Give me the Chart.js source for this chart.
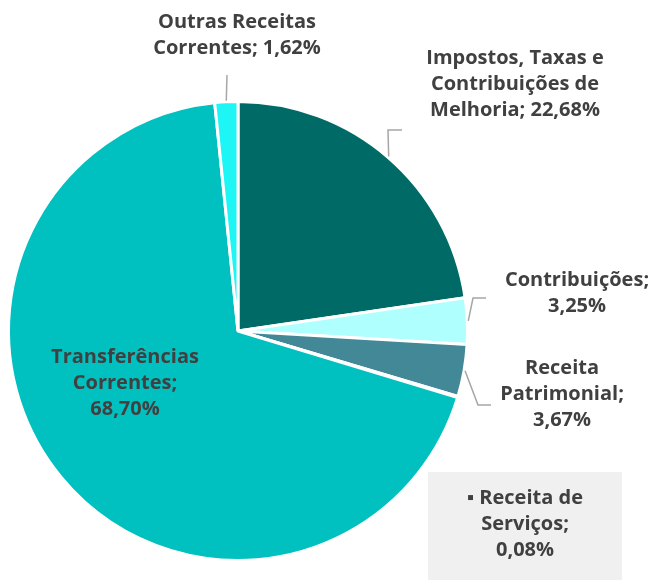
<!DOCTYPE html>
<html>
<head>
<meta charset="utf-8">
<script src="https://cdn.jsdelivr.net/npm/chart.js@4.4.1/dist/chart.umd.min.js"></script>
<style>
  body { margin: 0; background: #fff; }
  #wrap { position: relative; width: 653px; height: 580px; }
</style>
</head>
<body>
<div id="wrap"><canvas id="chart" width="653" height="580"></canvas></div>
<script>
const categories = [
  'Impostos, Taxas e Contribuições de Melhoria',
  'Contribuições',
  'Receita Patrimonial',
  'Receita de Serviços',
  'Transferências Correntes',
  'Outras Receitas Correntes'
]
const shares = [22.68, 3.25, 3.67, 0.08, 68.70, 1.62]
const colors = ['#006B66', '#B0FFFF', '#428896', '#2A9FA8', '#00C0C0', '#1EF5F5']

// label text lines, where each text block sits, and how the leader line bends
const labelLines = [
  ['Impostos, Taxas e', 'Contribuições de', 'Melhoria; 22,68%'],
  ['Contribuições;', '3,25%'],
  ['Receita', 'Patrimonial;', '3,67%'],
  ['▪ Receita de', 'Serviços;', '0,08%'],
  ['Transferências', 'Correntes;', '68,70%'],
  ['Outras Receitas', 'Correntes; 1,62%']
]
const labelPos = [
  [515, 58], [577, 280], [562, 368], [525, 498], [125, 357], [237, 22]
]
// leader points after the arc edge (null = no leader)
const leaders = [
  [[388, 130], [402, 130]],
  [[473, 298], [486, 298]],
  [[478, 405], [491, 405]],
  null,
  null,
  [[227, 75]]
]

const labelPlugin = {
  id: 'pieLabels',
  afterDraw(chart) {
    const ctx = chart.ctx
    const arcs = chart.getDatasetMeta(0).data
    ctx.save()
    // grey box behind the tiny slice label
    ctx.fillStyle = '#F0F0F0'
    ctx.fillRect(428, 472, 194, 108)

    ctx.strokeStyle = '#A6A6A6'
    ctx.lineWidth = 1.5
    arcs.forEach((arc, i) => {
      if (!leaders[i]) return
      const p = arc.getProps(['x', 'y', 'startAngle', 'endAngle', 'outerRadius'], true)
      const mid = (p.startAngle + p.endAngle) / 2
      ctx.beginPath()
      ctx.moveTo(p.x + Math.cos(mid) * (p.outerRadius + 1), p.y + Math.sin(mid) * (p.outerRadius + 1))
      leaders[i].forEach(pt => ctx.lineTo(pt[0], pt[1]))
      ctx.stroke()
    })

    ctx.fillStyle = '#404040'
    ctx.font = 'bold 20px "Open Sans"'
    ctx.textAlign = 'center'
    ctx.textBaseline = 'middle'
    labelLines.forEach((lines, i) => {
      lines.forEach((t, j) => {
        ctx.fillText(t, labelPos[i][0], labelPos[i][1] + j * 26)
      })
    })
    ctx.restore()
  }
}

new Chart(document.getElementById('chart'), {
  type: 'pie',
  data: {
    labels: categories,
    datasets: [{
      data: shares,
      backgroundColor: colors,
      borderColor: '#ffffff',
      borderWidth: 3
    }]
  },
  options: {
    responsive: false,
    animation: false,
    layout: { padding: { left: 7, top: 100, right: 184, bottom: 18 } },
    plugins: {
      legend: { display: false },
      tooltip: { enabled: false }
    }
  },
  plugins: [labelPlugin]
})
</script>
</body>
</html>
